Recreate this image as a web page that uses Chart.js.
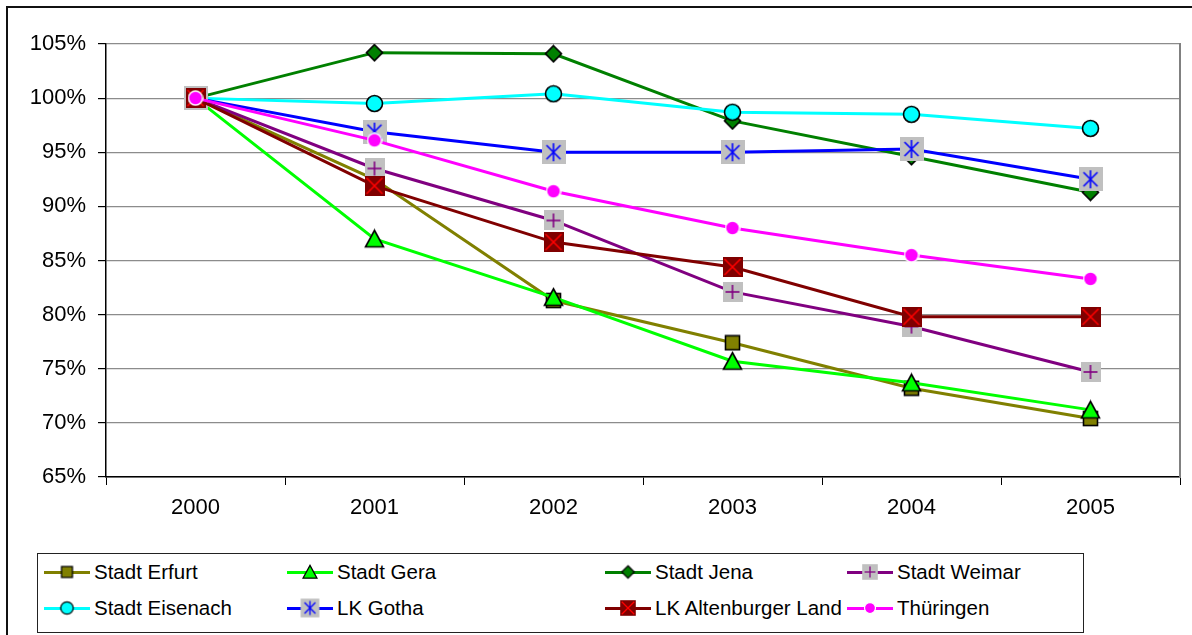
<!DOCTYPE html>
<html>
<head>
<meta charset="utf-8">
<title>Bevölkerungsentwicklung 2000–2005</title>
<script src="https://cdn.jsdelivr.net/npm/chart.js@4/dist/chart.umd.min.js"></script>
<style>
  html, body { margin: 0; padding: 0; background: #fff; }
  #wrap { position: relative; width: 1192px; height: 635px; overflow: hidden;
          font-family: "Liberation Sans", Arial, sans-serif; }
  #frame { position: absolute; left: 6px; top: 6px; width: 1300px; height: 800px;
           border-left: 2px solid #111; border-top: 2px solid #111; box-sizing: border-box; }
  #chart { position: absolute; left: 0; top: 0; }
  #legend { position: absolute; left: 37px; top: 553px; width: 1047px; height: 80px;
            border: 1px solid #222; box-sizing: border-box; background: #fff; }
  .item { position: absolute; height: 24px; display: flex; align-items: center;
          font-size: 20.5px; color: #000; white-space: nowrap; }
  .sw { position: relative; width: 46px; height: 24px; margin-right: 4px; }
  .sw .ln { position: absolute; left: 0; right: 0; top: 10.5px; height: 3px; }
  .sw canvas { position: absolute; left: 50%; top: 50%; transform: translate(-50%, -50%); }
</style>
</head>
<body>
<div id="wrap">
  <div id="frame"></div>
  <canvas id="chart" width="1192" height="635"></canvas>
  <div id="legend"></div>
</div>
<script>
// Years on the category axis
const years = ['2000', '2001', '2002', '2003', '2004', '2005'];

// Population relative to 2000, in percent
const stadtErfurt     = [100, 92.5, 81.3, 77.4, 73.2, 70.4];
const stadtGera       = [100, 87.0, 81.6, 75.7, 73.7, 71.2];
const stadtJena       = [100, 104.2, 104.1, 97.9, 94.6, 91.3];
const stadtWeimar     = [100, 93.5, 88.7, 82.1, 78.9, 74.7];
const stadtEisenach   = [100, 99.5, 100.4, 98.7, 98.5, 97.2];
const lkGotha         = [100, 96.9, 95.0, 95.0, 95.3, 92.5];
const lkAltenburg     = [100, 91.9, 86.7, 84.4, 79.8, 79.8];
const thueringen      = [100, 96.1, 91.4, 88.0, 85.5, 83.3];

// Y axis range and step, in percent
const yMin = 65, yMax = 105, yStep = 5;

const FONT = '"Liberation Sans", Arial, sans-serif';

// Marker glyphs drawn on small canvases, used as point styles
function marker(kind, k) {
  const base = { square: 17, triangle: 21, diamond: 19, plusBox: 20, circle: 19,
                 starBox: 24, xBox: 20, dot: 16 }[kind];
  const n = Math.round(base * k);
  const c = document.createElement('canvas');
  c.width = n; c.height = n;
  const g = c.getContext('2d');
  g.translate(n / 2, n / 2);
  g.scale(k, k);
  g.lineJoin = 'miter';
  const line = (x1, y1, x2, y2) => { g.beginPath(); g.moveTo(x1, y1); g.lineTo(x2, y2); g.stroke(); };
  switch (kind) {
    case 'square':
      g.fillStyle = '#808000'; g.fillRect(-7, -7, 14, 14);
      g.strokeStyle = '#000'; g.lineWidth = 1.6; g.strokeRect(-7, -7, 14, 14);
      break;
    case 'triangle':
      g.beginPath(); g.moveTo(0, -8.5); g.lineTo(9, 8); g.lineTo(-9, 8); g.closePath();
      g.fillStyle = '#00ff00'; g.fill();
      g.strokeStyle = '#000'; g.lineWidth = 1.6; g.stroke();
      break;
    case 'diamond':
      g.beginPath(); g.moveTo(0, -8); g.lineTo(8, 0); g.lineTo(0, 8); g.lineTo(-8, 0); g.closePath();
      g.fillStyle = '#008000'; g.fill();
      g.strokeStyle = '#000'; g.lineWidth = 1.6; g.stroke();
      break;
    case 'plusBox':
      g.fillStyle = '#c0c0c0'; g.fillRect(-10, -10, 20, 20);
      g.strokeStyle = '#800080'; g.lineWidth = 1.6;
      line(-7, 0, 7, 0); line(0, -7, 0, 7);
      break;
    case 'circle':
      g.beginPath(); g.arc(0, 0, 8, 0, Math.PI * 2);
      g.fillStyle = '#00ffff'; g.fill();
      g.strokeStyle = '#000'; g.lineWidth = 1.6; g.stroke();
      break;
    case 'starBox':
      g.fillStyle = '#c0c0c0'; g.fillRect(-12, -12, 24, 24);
      g.strokeStyle = '#0000ff'; g.lineWidth = 1.6;
      line(0, -9, 0, 9); line(-7, -7, 7, 7); line(7, -7, -7, 7);
      break;
    case 'xBox':
      g.fillStyle = '#800000'; g.fillRect(-10, -10, 20, 20);
      g.strokeStyle = '#ff0000'; g.lineWidth = 1.6;
      line(-8, -8, 8, 8); line(8, -8, -8, 8);
      break;
    case 'dot':
      g.beginPath(); g.arc(0, 0, 7, 0, Math.PI * 2);
      g.fillStyle = '#ff00ff'; g.fill();
      g.strokeStyle = '#fff'; g.lineWidth = 1.5; g.stroke();
      break;
  }
  return c;
}

const series = [
  { name: 'Stadt Erfurt',         data: stadtErfurt,   color: '#808000', mark: 'square',   col: 0, row: 0 },
  { name: 'Stadt Gera',           data: stadtGera,     color: '#00ff00', mark: 'triangle', col: 1, row: 0 },
  { name: 'Stadt Jena',           data: stadtJena,     color: '#008000', mark: 'diamond',  col: 2, row: 0 },
  { name: 'Stadt Weimar',         data: stadtWeimar,   color: '#800080', mark: 'plusBox',  col: 3, row: 0 },
  { name: 'Stadt Eisenach',       data: stadtEisenach, color: '#00ffff', mark: 'circle',   col: 0, row: 1 },
  { name: 'LK Gotha',             data: lkGotha,       color: '#0000ff', mark: 'starBox',  col: 1, row: 1 },
  { name: 'LK Altenburger Land',  data: lkAltenburg,   color: '#800000', mark: 'xBox',     col: 2, row: 1 },
  { name: 'Thüringen',            data: thueringen,    color: '#ff00ff', mark: 'dot',      col: 3, row: 1 }
];

const datasets = series.map((s, i) => ({
  label: s.name,
  data: s.data,
  borderColor: s.color,
  backgroundColor: s.color,
  borderWidth: 3,
  tension: 0,
  fill: false,
  pointStyle: marker(s.mark, 1),
  pointRadius: 9,
  pointHoverRadius: 9,
  order: series.length - i   // later series drawn on top
}));

const chart = new Chart(document.getElementById('chart'), {
  type: 'line',
  data: { labels: years, datasets },
  options: {
    responsive: false,
    animation: false,
    events: [],
    layout: { padding: { left: 6, top: 44, right: 12, bottom: 108 } },
    plugins: { legend: { display: false }, tooltip: { enabled: false } },
    scales: {
      x: {
        offset: true,
        grid: { offset: true, drawOnChartArea: false, drawTicks: true, tickLength: 8,
                color: '#000', lineWidth: 1 },
        border: { display: true, color: '#000', width: 1.5 },
        ticks: { color: '#000', font: { family: FONT, size: 22 }, padding: 10, maxRotation: 0 },
        afterFit: s => { s.height = 50; }
      },
      y: {
        min: yMin, max: yMax,
        ticks: { stepSize: yStep, color: '#000', font: { family: FONT, size: 22 }, padding: 12,
                 callback: v => v + '%' },
        grid: { color: '#8c8c8c', lineWidth: 1.2, tickLength: 8, tickColor: '#000' },
        border: { display: true, color: '#000', width: 1.5 },
        afterFit: s => { s.width = 100; }
      },
      yRight: {
        position: 'right',
        min: yMin, max: yMax,
        ticks: { display: false },
        grid: { display: false, drawTicks: false },
        border: { display: true, color: '#808080', width: 2 },
        afterFit: s => { s.width = 0; }
      }
    }
  }
});

// Legend laid out in four columns and two rows
const legend = document.getElementById('legend');
const colX = [6, 249, 567, 809];
const rowY = [6, 42];
series.forEach(s => {
  const item = document.createElement('div');
  item.className = 'item';
  item.style.left = colX[s.col] + 'px';
  item.style.top = rowY[s.row] + 'px';
  const sw = document.createElement('div');
  sw.className = 'sw';
  const ln = document.createElement('div');
  ln.className = 'ln';
  ln.style.background = s.color;
  sw.appendChild(ln);
  sw.appendChild(marker(s.mark, 0.78));
  const txt = document.createElement('span');
  txt.textContent = s.name;
  item.appendChild(sw);
  item.appendChild(txt);
  legend.appendChild(item);
});
</script>
</body>
</html>
